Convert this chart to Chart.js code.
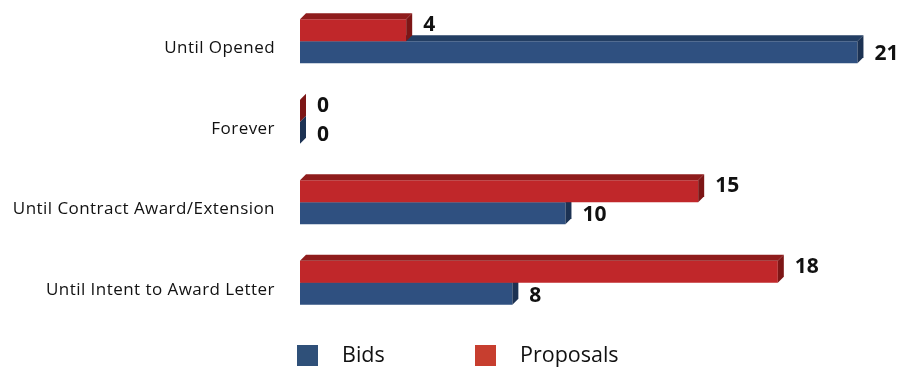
<!DOCTYPE html>
<html>
<head>
<meta charset="utf-8">
<script src="https://cdn.jsdelivr.net/npm/chart.js@4.4.1/dist/chart.umd.min.js"></script>
<style>
  html, body { margin: 0; padding: 0; background: #fff; }
  #wrap { position: relative; width: 899px; height: 370px; }
  #legend { position: absolute; left: 0; top: 344px; font-family: "Open Sans", sans-serif; font-size: 21.5px; color: #111; }
  .item { position: absolute; white-space: nowrap; }
  .sw { position: absolute; width: 21px; height: 21px; top: 1px; }
  .txt { position: absolute; top: -5px; }
</style>
</head>
<body>
<div id="wrap">
  <canvas id="chart" width="899" height="370"></canvas>
  <div id="legend">
    <div class="item" style="left:297px"><span class="sw" style="background:#2f5079"></span><span class="txt" style="left:45px">Bids</span></div>
    <div class="item" style="left:475px"><span class="sw" style="background:#c73e2f"></span><span class="txt" style="left:45px">Proposals</span></div>
  </div>
</div>
<script>
// categories, top to bottom
var categories = ["Until Opened", "Forever", "Until Contract Award/Extension", "Until Intent to Award Letter"];
var proposals = [4, 0, 15, 18];
var bids = [21, 0, 10, 8];

var DEPTH = 6;

// draws the top face and the end face of every bar, and the value next to it
var bars3d = {
  id: "bars3d",
  beforeDraw: function(chart) {
    // the category labels run a little wide in the original
    chart.ctx.letterSpacing = "0.45px";
  },
  afterDatasetDraw: function(chart, args) {
    var ctx = chart.ctx;
    var ds = chart.data.datasets[args.index];
    var d = DEPTH;
    ctx.save();
    args.meta.data.forEach(function(bar) {
      var p = bar.getProps(["x", "y", "base", "height"], true);
      var top = p.y - p.height / 2, bottom = p.y + p.height / 2;
      // top face
      ctx.fillStyle = ds.topColor;
      ctx.beginPath();
      ctx.moveTo(p.base, top);
      ctx.lineTo(p.base + d, top - d);
      ctx.lineTo(p.x + d, top - d);
      ctx.lineTo(p.x, top);
      ctx.closePath();
      ctx.fill();
      // end face
      ctx.fillStyle = ds.sideColor;
      ctx.beginPath();
      ctx.moveTo(p.x, top);
      ctx.lineTo(p.x + d, top - d);
      ctx.lineTo(p.x + d, bottom - d);
      ctx.lineTo(p.x, bottom);
      ctx.closePath();
      ctx.fill();
    });
    ctx.restore();
  },
  afterDraw: function(chart) {
    var ctx = chart.ctx;
    ctx.save();
    ctx.letterSpacing = "0px";
    ctx.font = "bold 21px 'Open Sans', sans-serif";
    ctx.fillStyle = "#111";
    ctx.textAlign = "left";
    ctx.textBaseline = "middle";
    chart.data.datasets.forEach(function(ds, i) {
      var meta = chart.getDatasetMeta(i);
      meta.data.forEach(function(bar, j) {
        var p = bar.getProps(["x", "y"], true);
        ctx.fillText(String(ds.data[j]), p.x + 17, p.y + ds.labelShift);
      });
    });
    ctx.restore();
  }
};

new Chart(document.getElementById("chart"), {
  type: "bar",
  data: {
    labels: categories,
    datasets: [
      { label: "Proposals", data: proposals, backgroundColor: "#c0272a", topColor: "#8f1c1c", sideColor: "#7d1616", labelShift: -5 },
      { label: "Bids", data: bids, backgroundColor: "#2f5080", topColor: "#233e63", sideColor: "#1c3253", labelShift: 2 }
    ]
  },
  options: {
    indexAxis: "y",
    responsive: false,
    animation: false,
    layout: { padding: { top: 1, right: 15, bottom: 47, left: 0 } },
    datasets: { bar: { barPercentage: 1, categoryPercentage: 0.547, borderWidth: 0 } },
    scales: {
      x: { display: false, min: 0, max: 22 },
      y: {
        grid: { display: false, drawTicks: false },
        border: { display: false },
        afterFit: function(scale) {
          scale.width = 300;
          scale.paddingTop = 0;
          scale.paddingBottom = 0;
        },
        ticks: {
          padding: 25,
          labelOffset: 7,
          color: "#111",
          font: { family: "'Open Sans', sans-serif", size: 17 }
        }
      }
    },
    plugins: {
      legend: { display: false },
      tooltip: { enabled: false }
    }
  },
  plugins: [bars3d]
});
</script>
</body>
</html>
